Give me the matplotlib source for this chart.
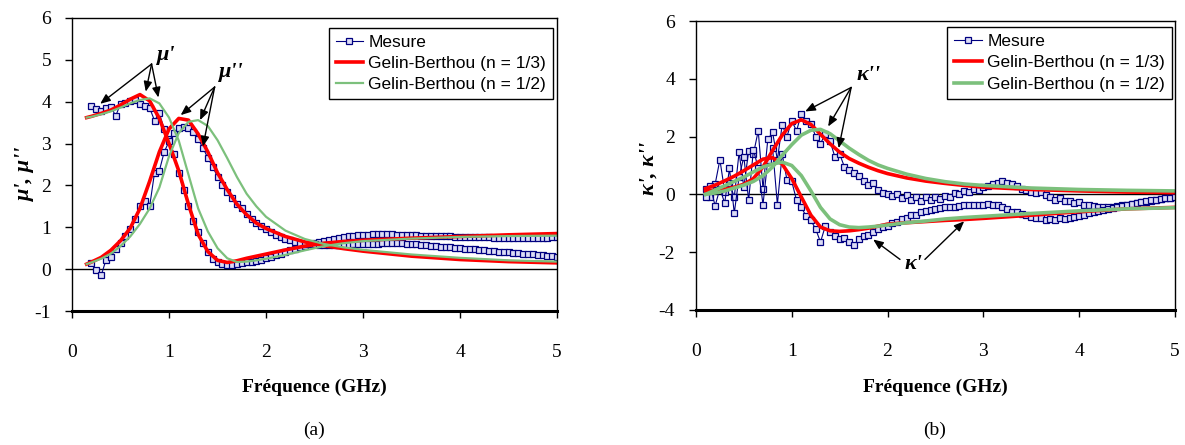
import numpy as np
import matplotlib
matplotlib.use('Agg')
import matplotlib.pyplot as plt

plt.rcParams['font.family'] = ['Liberation Serif', 'DejaVu Serif']
plt.rcParams['axes.unicode_minus'] = False

# ---- (a) permeabilite : mesure + modeles de Gelin-Berthou ----
f_mes_a = np.round(np.arange(0.20, 5.001, 0.05), 2)
mu1_mes = [3.90, 3.82, 3.78, 3.85, 3.88, 3.66, 3.95, 3.98, 4.02, 4.05,
           3.95, 3.90, 3.85, 3.55, 3.72, 3.35, 3.10, 2.75, 2.30, 1.88,
           1.52, 1.15, 0.88, 0.62, 0.42, 0.25, 0.17, 0.12, 0.11, 0.10,
           0.12, 0.14, 0.16, 0.18, 0.20, 0.23, 0.26, 0.30, 0.33, 0.37,
           0.41, 0.45, 0.49, 0.52, 0.56, 0.59, 0.62, 0.65, 0.68, 0.70,
           0.73, 0.75, 0.77, 0.79, 0.80, 0.81, 0.82, 0.82, 0.83, 0.83,
           0.83, 0.83, 0.83, 0.82, 0.82, 0.82, 0.81, 0.81, 0.80, 0.80,
           0.80, 0.79, 0.79, 0.78, 0.78, 0.77, 0.77, 0.77, 0.76, 0.76,
           0.76, 0.76, 0.76, 0.75, 0.75, 0.75, 0.75, 0.75, 0.75, 0.75,
           0.75, 0.75, 0.75, 0.75, 0.75, 0.76, 0.76]
mu2_mes = [0.15, -0.02, -0.15, 0.22, 0.30, 0.48, 0.62, 0.80, 0.95, 1.20,
           1.50, 1.62, 1.50, 2.30, 2.35, 2.80, 3.05, 3.25, 3.38, 3.40,
           3.36, 3.28, 3.10, 2.90, 2.65, 2.45, 2.20, 2.02, 1.85, 1.70,
           1.56, 1.45, 1.32, 1.20, 1.10, 1.02, 0.95, 0.88, 0.82, 0.77,
           0.73, 0.69, 0.66, 0.63, 0.61, 0.60, 0.59, 0.58, 0.58, 0.57,
           0.57, 0.57, 0.58, 0.58, 0.59, 0.59, 0.60, 0.60, 0.61, 0.61,
           0.62, 0.62, 0.62, 0.62, 0.62, 0.61, 0.60, 0.59, 0.58, 0.57,
           0.56, 0.55, 0.54, 0.53, 0.52, 0.51, 0.50, 0.49, 0.48, 0.47,
           0.46, 0.45, 0.44, 0.43, 0.42, 0.41, 0.40, 0.39, 0.38, 0.37,
           0.36, 0.35, 0.34, 0.33, 0.32, 0.31, 0.30]

f_fit_a = [0.15, 0.2, 0.3, 0.4, 0.5, 0.6, 0.7, 0.8, 0.9, 1.0,
           1.1, 1.2, 1.3, 1.4, 1.5, 1.6, 1.7, 1.8, 1.9, 2.0,
           2.2, 2.4, 2.6, 2.8, 3.0, 3.5, 4.0, 4.5, 5.0]
mu1_n3 = [3.62, 3.65, 3.72, 3.80, 3.92, 4.06, 4.17, 4.02, 3.60, 3.00,
          2.35, 1.55, 0.83, 0.42, 0.21, 0.16, 0.20, 0.26, 0.31, 0.36,
          0.46, 0.55, 0.62, 0.66, 0.69, 0.74, 0.78, 0.82, 0.85]
mu1_n2 = [3.62, 3.64, 3.70, 3.77, 3.86, 3.96, 4.04, 4.08, 3.96, 3.62,
          3.07, 2.26, 1.45, 0.90, 0.50, 0.26, 0.17, 0.18, 0.21, 0.25,
          0.34, 0.45, 0.55, 0.62, 0.67, 0.73, 0.77, 0.79, 0.80]
mu2_n3 = [0.12, 0.17, 0.28, 0.45, 0.68, 0.98, 1.45, 2.10, 2.80, 3.35,
          3.60, 3.56, 3.23, 2.80, 2.30, 1.90, 1.55, 1.30, 1.10, 0.97,
          0.78, 0.65, 0.56, 0.49, 0.43, 0.31, 0.23, 0.18, 0.15]
mu2_n2 = [0.12, 0.16, 0.25, 0.37, 0.55, 0.78, 1.08, 1.45, 1.95, 2.70,
          3.25, 3.52, 3.56, 3.42, 3.08, 2.65, 2.20, 1.80, 1.50, 1.25,
          0.92, 0.72, 0.60, 0.52, 0.46, 0.35, 0.27, 0.21, 0.18]

# ---- (b) terme de gyrotropie ----
f_mes_b = np.round(np.arange(0.10, 5.001, 0.05), 2)
k2_mes = [0.20, -0.10, 0.35, 1.20, 0.10, 0.40, -0.10, 1.45, 0.25, 1.50,
          1.40, 2.20, 0.20, 1.90, 2.15, 1.20, 2.40, 2.00, 2.55, 2.20,
          2.78, 2.55, 2.45, 2.00, 1.75, 2.10, 1.85, 1.30, 1.40, 0.95,
          0.85, 0.75, 0.65, 0.48, 0.32, 0.38, 0.15, 0.05, 0.03, -0.05,
          0.00, -0.12, -0.02, -0.18, -0.08, -0.22, -0.10, -0.20, -0.08, -0.16,
          -0.04, -0.10, 0.05, 0.02, 0.12, 0.10, 0.20, 0.15, 0.25, 0.28,
          0.35, 0.38, 0.45, 0.40, 0.35, 0.30, 0.20, 0.15, 0.10, 0.05,
          0.08, -0.02, -0.10, -0.18, -0.12, -0.24, -0.22, -0.30, -0.28, -0.36,
          -0.36, -0.40, -0.42, -0.45, -0.44, -0.42, -0.40, -0.38, -0.36, -0.33,
          -0.30, -0.28, -0.25, -0.22, -0.20, -0.17, -0.14, -0.12, -0.10]
k1_mes = [-0.10, 0.30, -0.40, 0.20, -0.30, 0.90, -0.65, 0.60, 1.30, -0.20,
          1.55, 0.90, -0.35, 1.20, 1.60, -0.35, 1.40, 0.50, 0.45, -0.20,
          -0.45, -0.75, -0.90, -1.20, -1.65, -1.10, -1.30, -1.45, -1.55, -1.50,
          -1.65, -1.75, -1.55, -1.45, -1.40, -1.30, -1.20, -1.12, -1.08, -1.00,
          -0.95, -0.85, -0.80, -0.72, -0.70, -0.62, -0.58, -0.55, -0.52, -0.48,
          -0.45, -0.43, -0.42, -0.40, -0.38, -0.37, -0.36, -0.35, -0.35, -0.34,
          -0.35, -0.38, -0.45, -0.52, -0.60, -0.62, -0.68, -0.72, -0.78, -0.82,
          -0.80, -0.88, -0.85, -0.90, -0.82, -0.86, -0.80, -0.78, -0.75, -0.72,
          -0.66, -0.62, -0.58, -0.55, -0.50, -0.48, -0.42, -0.40, -0.36, -0.32,
          -0.30, -0.26, -0.22, -0.20, -0.18, -0.15, -0.14, -0.12, -0.10]

f_fit_b = [0.1, 0.2, 0.3, 0.4, 0.5, 0.6, 0.7, 0.8, 0.9, 1.0,
           1.1, 1.2, 1.3, 1.4, 1.5, 1.6, 1.7, 1.8, 1.9, 2.0,
           2.2, 2.4, 2.6, 2.8, 3.0, 3.5, 4.0, 4.5, 5.0]
k2_n3 = [0.12, 0.15, 0.18, 0.25, 0.35, 0.55, 0.95, 1.52, 2.05, 2.45,
         2.58, 2.42, 2.08, 1.75, 1.46, 1.24, 1.08, 0.94, 0.82, 0.72,
         0.57, 0.46, 0.38, 0.31, 0.25, 0.17, 0.12, 0.08, 0.06]
k1_n3 = [0.20, 0.32, 0.47, 0.63, 0.82, 1.02, 1.22, 1.27, 1.05, 0.55,
         -0.09, -0.72, -1.13, -1.26, -1.28, -1.26, -1.22, -1.17, -1.10, -1.03,
         -0.98, -0.94, -0.90, -0.87, -0.83, -0.72, -0.60, -0.50, -0.45]
k2_n2 = [0.00, 0.05, 0.12, 0.22, 0.32, 0.45, 0.65, 0.95, 1.35, 1.72,
         2.05, 2.22, 2.25, 2.10, 1.85, 1.60, 1.38, 1.18, 1.02, 0.90,
         0.70, 0.55, 0.44, 0.36, 0.31, 0.22, 0.17, 0.14, 0.12]
k1_n2 = [0.00, 0.15, 0.30, 0.45, 0.60, 0.78, 0.95, 1.05, 1.12, 1.00,
         0.65, 0.12, -0.45, -0.85, -1.05, -1.13, -1.15, -1.13, -1.10, -1.06,
         -0.98, -0.92, -0.85, -0.80, -0.76, -0.66, -0.57, -0.50, -0.46]

NAVY = '#000080'
RED = '#ff0000'
GREEN = '#7cc07c'


def style_axes(ax, ylim, yticks):
    ax.set_xlim(0, 5)
    ax.set_ylim(*ylim)
    ax.set_xticks(range(6))
    ax.set_yticks(yticks)
    ax.tick_params(direction='out', length=5, width=1, labelsize=14)
    ax.tick_params(axis='x', pad=19)
    ax.tick_params(axis='y', pad=10)
    for s in ax.spines.values():
        s.set_linewidth(1.0)
    ax.spines['bottom'].set_linewidth(2.2)
    ax.axhline(0, color='black', lw=1.0, zorder=1.5)


def add_legend(ax, handles, anchor):
    leg = ax.legend(handles, ['Mesure', 'Gelin-Berthou (n = 1/3)', 'Gelin-Berthou (n = 1/2)'],
                    loc='upper right', bbox_to_anchor=anchor, borderaxespad=0,
                    prop={'family': 'Liberation Sans', 'size': 12.5},
                    fancybox=False, edgecolor='black', framealpha=1, numpoints=1,
                    handlelength=1.6, handletextpad=0.3, labelspacing=0.35, borderpad=0.4)
    leg.get_frame().set_linewidth(1.0)


def arrows(ax, tail, heads):
    for h in heads:
        ax.annotate('', xy=h, xytext=tail,
                    arrowprops=dict(arrowstyle='-|>,head_length=0.6,head_width=0.25',
                                    color='black', lw=1, shrinkA=0, shrinkB=0))


mes_kw = dict(color=NAVY, lw=0.8, marker='s', ms=5, mfc='#dcdcf5', mec=NAVY, mew=0.9)
txt_kw = dict(fontsize=16, fontweight='bold', style='italic', ha='center', va='center')

fig = plt.figure(figsize=(11.85, 4.45), dpi=100)
ax_a = fig.add_axes([0.0608, 0.3011, 0.4093, 0.6585])
ax_b = fig.add_axes([0.5873, 0.3034, 0.4042, 0.6494])

# panneau (a)
h1, = ax_a.plot(f_mes_a, mu1_mes, **mes_kw)
ax_a.plot(f_mes_a, mu2_mes, **mes_kw)
h2, = ax_a.plot(f_fit_a, mu1_n3, color=RED, lw=2.6)
ax_a.plot(f_fit_a, mu2_n3, color=RED, lw=2.6)
h3, = ax_a.plot(f_fit_a, mu1_n2, color=GREEN, lw=1.6)
ax_a.plot(f_fit_a, mu2_n2, color=GREEN, lw=1.6)
style_axes(ax_a, (-1, 6), range(-1, 7))
add_legend(ax_a, [h1, h2, h3], (0.992, 0.966))
ax_a.set_xlabel('Fréquence (GHz)', fontsize=14, fontweight='bold')
ax_a.xaxis.set_label_coords(0.5, -0.232)
ax_a.set_ylabel("μ', μ''", fontsize=16, fontweight='bold', style='italic')
ax_a.yaxis.set_label_coords(-0.076, 0.468)
ax_a.text(0.97, 5.12, "μ'", **txt_kw)
arrows(ax_a, (0.82, 4.9), [(0.29, 3.95), (0.76, 4.24), (0.89, 4.1)])
ax_a.text(1.64, 4.72, "μ''", **txt_kw)
arrows(ax_a, (1.47, 4.35), [(1.12, 3.68), (1.32, 3.56), (1.35, 2.93)])

# panneau (b)
mes_kw_b = dict(mes_kw, ms=4)
g1, = ax_b.plot(f_mes_b, k2_mes, **mes_kw_b)
ax_b.plot(f_mes_b, k1_mes, **mes_kw_b)
g2, = ax_b.plot(f_fit_b, k2_n3, color=RED, lw=2.6)
ax_b.plot(f_fit_b, k1_n3, color=RED, lw=2.6)
g3, = ax_b.plot(f_fit_b, k2_n2, color=GREEN, lw=2.6)
ax_b.plot(f_fit_b, k1_n2, color=GREEN, lw=2.6)
style_axes(ax_b, (-4, 6), range(-4, 7, 2))
add_legend(ax_b, [g1, g2, g3], (0.994, 0.979))
ax_b.set_xlabel('Fréquence (GHz)', fontsize=14, fontweight='bold')
ax_b.xaxis.set_label_coords(0.5, -0.239)
ax_b.set_ylabel("κ', κ''", fontsize=16, fontweight='bold', style='italic')
ax_b.yaxis.set_label_coords(-0.079, 0.49)
ax_b.text(1.80, 4.12, "κ''", **txt_kw)
arrows(ax_b, (1.62, 3.70), [(1.14, 2.87), (1.38, 2.35), (1.49, 1.6)])
ax_b.text(2.27, -2.42, "κ'", **txt_kw)
arrows(ax_b, (2.13, -2.25), [(1.85, -1.56)])
arrows(ax_b, (2.39, -2.25), [(2.8, -0.93)])

fig.text(0.265, 1 - 430 / 445, '(a)', ha='center', va='center', fontsize=14)
fig.text(0.789, 1 - 430 / 445, '(b)', ha='center', va='center', fontsize=14)

fig.savefig('out.png', dpi=100)
